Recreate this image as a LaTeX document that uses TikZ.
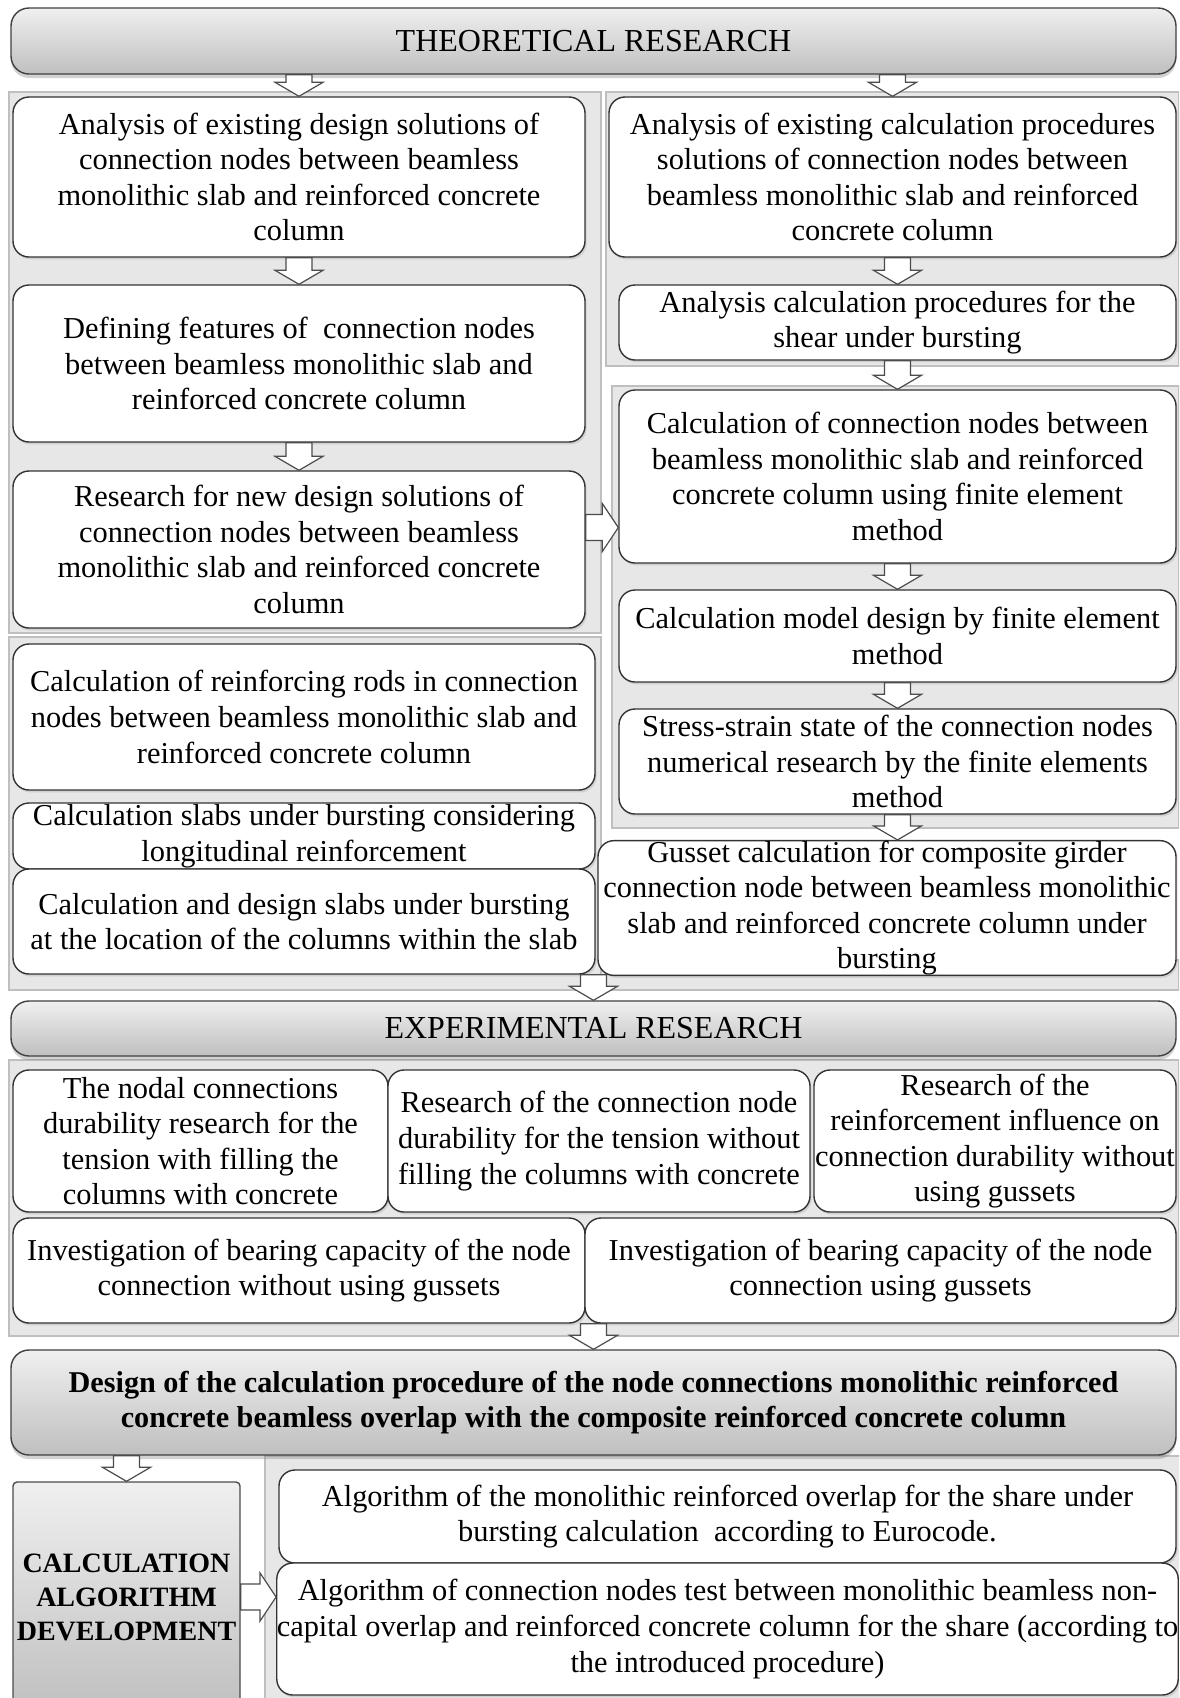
\documentclass[tikz,border=0pt]{standalone}
\usepackage{fontspec}
\setmainfont{Liberation Serif}
\usetikzlibrary{calc,shadows}
\tikzset{
  bx/.style={draw=black!80, line width=0.7pt, fill=white, rounded corners=8pt, align=center, inner sep=0pt, font=\fontsize{15.2}{17.8}\selectfont, drop shadow={opacity=0.22, shadow xshift=0.8pt, shadow yshift=-1.2pt}},
  hdr/.style={draw=black!75, line width=0.7pt, rounded corners=9pt, top color=gray!12, bottom color=gray!50, align=center, inner sep=0pt, font=\fontsize{16}{17.8}\selectfont, drop shadow={opacity=0.35, shadow xshift=0pt, shadow yshift=-2pt}},
  sidebox/.style={draw=black!70, line width=0.7pt, rounded corners=2pt, top color=gray!12, bottom color=gray!50, align=center, inner sep=0pt, font=\fontsize{14}{17}\selectfont\bfseries},
  panel/.style={fill=gray!19, draw=gray!50, line width=0.6pt},
  arrowdn/.style={draw=black!70, fill=white, line width=0.6pt, line join=miter,
    to path={let \p1=(\tikztostart), \p2=(\tikztotarget) in
      (\x1-6.5pt,\y1) -- (\x1-6.5pt,\y2+7pt) -- (\x1-12pt,\y2+7pt) -- (\x1,\y2) -- (\x1+12pt,\y2+7pt) -- (\x1+6.5pt,\y2+7pt) -- (\x1+6.5pt,\y1) -- cycle}},
  arrowrt/.style={draw=black!70, fill=white, line width=0.6pt, line join=miter,
    to path={let \p1=(\tikztostart), \p2=(\tikztotarget) in
      (\x1,\y1+6.5pt) -- (\x2-8pt,\y1+6.5pt) -- (\x2-8pt,\y1+12pt) -- (\x2,\y1) -- (\x2-8pt,\y1-12pt) -- (\x2-8pt,\y1-6.5pt) -- (\x1,\y1-6.5pt) -- cycle}},
}
\begin{document}
\begin{tikzpicture}[x=0.5pt,y=-0.5pt]
\useasboundingbox (0,0) rectangle (1179,1698);
\clip (0,0) rectangle (1179,1698);
\fill[white] (0,0) rectangle (1179,1698);

% background panels
\draw[panel] (9,92) rectangle (601,633);
\draw[panel] (606,92) rectangle (1179,366);
\draw[panel] (612,386) rectangle (1179,828);
\draw[panel] (9,637) rectangle (601,990);
\draw[panel] (601,960) rectangle (1179,990);
\draw[panel] (9,1060) rectangle (1179,1336);
\draw[panel] (265,1456) rectangle (1185,1710);

% headers
\node[hdr, minimum width=582.5pt, minimum height=33pt] (h1) at (593.5,41) {THEORETICAL RESEARCH};
\node[hdr, minimum width=582.5pt, minimum height=27.5pt] (h2) at (593.5,1028.5) {EXPERIMENTAL RESEARCH};
\node[hdr, minimum width=582.5pt, minimum height=52.5pt, font=\fontsize{15.1}{17.8}\selectfont\bfseries] (h3) at (593.5,1402.5) {Design of the calculation procedure of the node connections monolithic reinforced\\concrete beamless overlap with the composite reinforced concrete column};

% left column
\node[bx, minimum width=286pt, minimum height=80pt] (b1) at (299,177) {Analysis of existing design solutions of\\connection nodes between beamless\\monolithic slab and reinforced concrete\\column};
\node[bx, minimum width=286pt, minimum height=78.5pt] (b2) at (299,363.5) {Defining features of\ \ connection nodes\\between beamless monolithic slab and\\reinforced concrete column};
\node[bx, minimum width=286pt, minimum height=78.5pt] (b3) at (299,549.5) {Research for new design solutions of\\connection nodes between beamless\\monolithic slab and reinforced concrete\\column};
\node[bx, minimum width=291pt, minimum height=73pt] (l4) at (304,717) {Calculation of reinforcing rods in connection\\nodes between beamless monolithic slab and\\reinforced concrete column};
\node[bx, minimum width=291pt, minimum height=33pt] (l5) at (304,836) {Calculation slabs under bursting considering\\longitudinal reinforcement};
\node[bx, minimum width=291pt, minimum height=52.5pt] (l6) at (304,921.5) {Calculation and design slabs under bursting\\at the location of the columns within the slab};

% right column
\node[bx, minimum width=283.5pt, minimum height=80pt] (r1) at (892.5,177) {Analysis of existing calculation procedures\\solutions of connection nodes between\\beamless monolithic slab and reinforced\\concrete column};
\node[bx, minimum width=278.5pt, minimum height=37.5pt] (r2) at (897.5,322.5) {Analysis calculation procedures for the\\shear under bursting};
\node[bx, minimum width=278.5pt, minimum height=86.5pt] (r3) at (897.5,476.5) {Calculation of connection nodes between\\beamless monolithic slab and reinforced\\concrete column using finite element\\method};
\node[bx, minimum width=278.5pt, minimum height=46pt] (r4) at (897.5,636) {Calculation model design by finite element\\method};
\node[bx, minimum width=278.5pt, minimum height=52.5pt] (r5) at (897.5,761.5) {Stress-strain state of the connection nodes\\numerical research by the finite elements\\method};
\node[bx, minimum width=289pt, minimum height=66pt] (r6) at (887,908) {Gusset calculation for composite girder\\connection node between beamless monolithic\\slab and reinforced concrete column under\\bursting};

% experimental
\node[bx, minimum width=187.5pt, minimum height=71pt] (e1) at (200.5,1141) {The nodal connections\\durability research for the\\tension with filling the\\columns with concrete};
\node[bx, minimum width=211pt, minimum height=71pt] (e2) at (599,1141) {Research of the connection node\\durability for the tension without\\filling the columns with concrete};
\node[bx, minimum width=181pt, minimum height=71pt] (e3) at (995,1141) {Research of the\\reinforcement influence on\\connection durability without\\using gussets};
\node[bx, minimum width=286pt, minimum height=52.5pt] (e4) at (299,1270.5) {Investigation of bearing capacity of the node\\connection without using gussets};
\node[bx, minimum width=295.5pt, minimum height=52.5pt] (e5) at (880.5,1270.5) {Investigation of bearing capacity of the node\\connection using gussets};

% algorithm
\node[sidebox, minimum width=113.5pt, minimum height=115pt] (calc) at (126.5,1597) {CALCULATION\\ALGORITHM\\DEVELOPMENT};
\node[bx, minimum width=448.5pt, minimum height=46.5pt] (a1) at (727.5,1516.5) {Algorithm of the monolithic reinforced overlap for the share under\\bursting calculation\ \ according to Eurocode.};
\node[bx, minimum width=448.5pt, minimum height=66pt] (a2) at (727.5,1629) {Algorithm of connection nodes test between monolithic beamless non-\\capital overlap and reinforced concrete column for the share (according to\\the introduced procedure)};

% arrows
\draw[arrowdn] (h1.south -| b1.north) to (b1.north);
\draw[arrowdn] (h1.south -| r1.north) to (r1.north);
\draw[arrowdn] (b1.south) to (b2.north);
\draw[arrowdn] (b2.south) to (b3.north);
\draw[arrowdn] (r1.south -| r2.north) to (r2.north);
\draw[arrowdn] (r2.south) to (r3.north);
\draw[arrowdn] (r3.south) to (r4.north);
\draw[arrowdn] (r4.south) to (r5.north);
\draw[arrowdn] (r5.south) to (r6.north -| r5.south);
\coordinate (ra) at ([yshift=11pt]b3.east);
\draw[arrowrt] (ra) to (ra -| r3.west);
\draw[arrowdn] (h2.north |- l6.south) to (h2.north);
\draw[arrowdn] (h3.north |- e4.south) to (h3.north);
\draw[arrowdn] (h3.south -| calc.north) to (calc.north);
\draw[arrowrt] (calc.east) to (calc.east -| a2.west);
\end{tikzpicture}
\end{document}
